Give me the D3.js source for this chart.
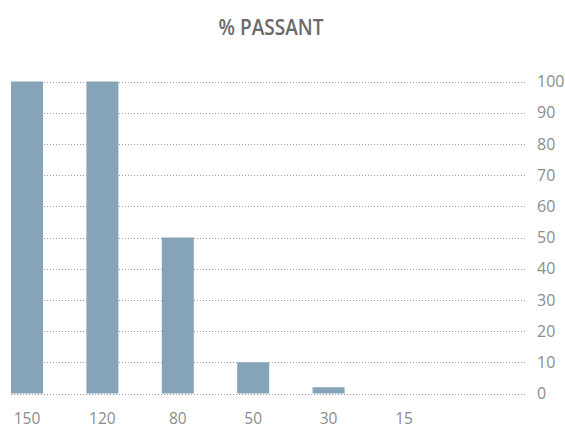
<!DOCTYPE html>
<html><head><meta charset="utf-8">
<script src="https://cdn.jsdelivr.net/npm/d3@7"></script>
<style>body{margin:0;background:#fff;}svg{display:block;}</style>
</head><body>
<svg id="c" width="565" height="429"></svg>
<script>
const categories = ["150","120","80","50","30","15"];
const values = [100, 100, 50, 10, 2, 0];
const yTicks = [0,10,20,30,40,50,60,70,80,90,100];
const title = "% PASSANT";

const svg = d3.select("#c");
const step = 75.4;
const x = d3.scaleBand().domain(categories)
  .range([27 - step/2, 27 - step/2 + step*categories.length])
  .paddingInner(1 - 32/step).paddingOuter((1 - 32/step)/2);
const y = d3.scaleLinear().domain([0,100]).range([393.5, 81.5]);
const gridX0 = 11, gridX1 = 527;

svg.append("text").attr("x", 271).attr("y", 35).attr("text-anchor","middle")
  .attr("font-family","'Open Sans', sans-serif").attr("font-weight",600)
  .attr("font-size",21).attr("fill","#6b6b6b").attr("textLength",105).attr("lengthAdjust","spacingAndGlyphs").text(title);

svg.append("g").selectAll("line").data(yTicks).join("line")
  .attr("x1", gridX0).attr("x2", gridX1)
  .attr("y1", d => Math.round(y(d))+0.5).attr("y2", d => Math.round(y(d))+0.5)
  .attr("stroke","#9a9a9a").attr("stroke-width",1).attr("stroke-dasharray","1,2");

svg.append("g").selectAll("rect").data(values).join("rect")
  .attr("x", (d,i) => x(categories[i])).attr("width", x.bandwidth())
  .attr("y", d => y(d)).attr("height", d => y(0) - y(d))
  .attr("fill","#86a4b8");

const yAxis = svg.append("g").attr("transform",`translate(${gridX1},0)`)
  .call(d3.axisRight(y).tickValues(yTicks).tickSize(0).tickPadding(10));
yAxis.select(".domain").remove();
yAxis.selectAll("text").attr("font-family","'Open Sans', sans-serif").attr("font-size",16).attr("fill","#8c8c8c");

const xAxis = svg.append("g").attr("transform",`translate(0,${y(0)})`)
  .call(d3.axisBottom(x).tickSize(0).tickPadding(19));
xAxis.select(".domain").remove();
xAxis.selectAll("text").attr("font-family","'Open Sans', sans-serif").attr("font-size",15.5).attr("fill","#8c8c8c");
</script>
</body></html>
